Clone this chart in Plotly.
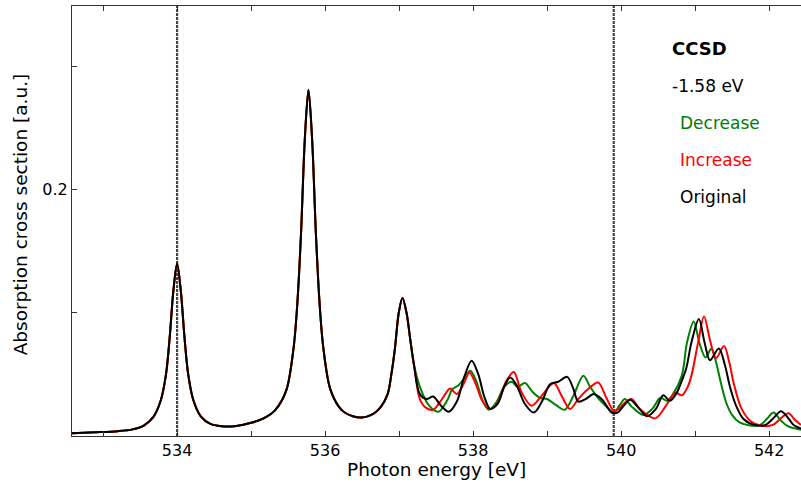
import plotly.graph_objects as go

# shared part of the spectrum (all three curves coincide here)
energy_common = [532.58, 532.9, 533.2, 533.4, 533.55, 533.68, 533.78, 533.85, 533.9, 533.95,
                 534.0, 534.05, 534.1, 534.15, 534.22, 534.32, 534.45, 534.6, 534.8, 535.0,
                 535.175, 535.325, 535.475, 535.575, 535.625, 535.675, 535.725, 535.775,
                 535.825, 535.875, 535.925, 535.975, 536.075, 536.225, 536.375, 536.5,
                 536.645, 536.745, 536.845, 536.895, 536.945, 536.995, 537.045, 537.1,
                 537.15, 537.2]
sigma_common = [0.0023, 0.003, 0.0039, 0.0054, 0.0085, 0.0155, 0.029, 0.05, 0.08, 0.118,
                0.14, 0.118, 0.08, 0.05, 0.029, 0.016, 0.0098, 0.008, 0.0082, 0.0107,
                0.0145, 0.021, 0.037, 0.072, 0.108, 0.165, 0.24, 0.281,
                0.24, 0.165, 0.108, 0.072, 0.037, 0.021, 0.016, 0.015,
                0.0178, 0.023, 0.034, 0.05, 0.072, 0.1, 0.112, 0.1,
                0.0785, 0.058]

# Original
energy_orig = [537.28, 537.37, 537.46, 537.56, 537.67, 537.78, 537.88, 537.98, 538.07, 538.15,
               538.23, 538.33, 538.42, 538.5, 538.58, 538.7, 538.82, 538.93, 539.04, 539.15,
               539.27, 539.35, 539.42, 539.52, 539.63, 539.75, 539.87, 539.95, 540.04, 540.12,
               540.22, 540.35, 540.47, 540.57, 540.66, 540.75, 540.82, 540.88, 540.95, 541.05,
               541.13, 541.2, 541.32, 541.4, 541.47, 541.55, 541.65, 541.8, 541.95, 542.05,
               542.16, 542.25, 542.33, 542.43]
sigma_orig = [0.034, 0.03, 0.032, 0.025, 0.0197, 0.028, 0.048, 0.061, 0.05, 0.032,
              0.022, 0.026, 0.04, 0.0475, 0.042, 0.026, 0.019, 0.028, 0.042, 0.044,
              0.048, 0.039, 0.028, 0.03, 0.034, 0.029, 0.019, 0.019, 0.025, 0.0294,
              0.024, 0.016, 0.022, 0.033, 0.0286, 0.035, 0.045, 0.055, 0.076, 0.095,
              0.075, 0.0615, 0.071, 0.058, 0.04, 0.025, 0.014, 0.009, 0.009, 0.014,
              0.02, 0.015, 0.009, 0.006]

# Decrease
energy_dec = [537.28, 537.4, 537.53, 537.65, 537.72, 537.8, 537.88, 537.96, 538.04, 538.12,
              538.21, 538.32, 538.42, 538.52, 538.6, 538.7, 538.8, 538.9, 539.0, 539.12,
              539.24, 539.35, 539.49, 539.58, 539.7, 539.8, 539.9, 539.98, 540.05, 540.14,
              540.3, 540.42, 540.53, 540.62, 540.7, 540.82, 540.89, 540.98, 541.06, 541.14,
              541.22, 541.29, 541.34, 541.42, 541.5, 541.6, 541.74, 541.88, 541.97, 542.06,
              542.15, 542.25, 542.43]
sigma_dec = [0.04, 0.025, 0.0197, 0.029, 0.038, 0.041, 0.047, 0.053, 0.045, 0.03,
             0.0213, 0.028, 0.04, 0.044, 0.04, 0.043, 0.036, 0.031, 0.03, 0.025,
             0.0213, 0.032, 0.0488, 0.04, 0.03, 0.024, 0.019, 0.025, 0.03, 0.024,
             0.017, 0.022, 0.031, 0.0286, 0.034, 0.049, 0.076, 0.093, 0.075, 0.0637,
             0.071, 0.058, 0.045, 0.027, 0.017, 0.011, 0.0085, 0.009, 0.014, 0.019,
             0.013, 0.008, 0.005]

# Increase
energy_inc = [537.28, 537.36, 537.46, 537.58, 537.69, 537.78, 537.87, 537.95, 538.03, 538.12,
              538.22, 538.33, 538.45, 538.55, 538.65, 538.79, 538.93, 539.09, 539.2, 539.31,
              539.42, 539.55, 539.69, 539.8, 539.9, 539.97, 540.05, 540.14, 540.25, 540.46,
              540.6, 540.73, 540.82, 540.9, 540.95, 541.04, 541.12, 541.2, 541.28, 541.39,
              541.46, 541.52, 541.62, 541.75, 541.9, 542.05, 542.15, 542.26, 542.35, 542.43]
sigma_inc = [0.03, 0.023, 0.0213, 0.03, 0.0386, 0.034, 0.042, 0.0516, 0.043, 0.029,
             0.0219, 0.027, 0.045, 0.052, 0.036, 0.0246, 0.033, 0.043, 0.032, 0.0219,
             0.03, 0.038, 0.0434, 0.031, 0.0205, 0.022, 0.027, 0.03, 0.022, 0.0143,
             0.024, 0.035, 0.033, 0.04, 0.049, 0.076, 0.097, 0.078, 0.063, 0.073,
             0.06, 0.043, 0.023, 0.012, 0.0083, 0.009, 0.014, 0.0184, 0.013, 0.009]

marker_lines = [534.0, 539.9]

series = [
    ("Decrease", energy_dec, sigma_dec, "#008000"),
    ("Increase", energy_inc, sigma_inc, "#ff0000"),
    ("Original", energy_orig, sigma_orig, "#000000"),
]

font = "DejaVu Sans"

fig = go.Figure()

for name, ex, sx, color in series:
    fig.add_trace(go.Scatter(
        x=energy_common + ex,
        y=sigma_common + sx,
        mode="lines",
        name=name,
        line=dict(color=color, width=2, shape="spline", smoothing=0.9),
        showlegend=False
    ))

for xv in marker_lines:
    fig.add_vline(x=xv, line=dict(color="#444444", width=2.2, dash="3px,1px"), layer="below")

labels = [
    ("<b>CCSD</b>", 0.820, 0.902, "black", 18),
    ("-1.58 eV", 0.820, 0.814, "black", 17),
    ("Decrease", 0.831, 0.728, "#008000", 17),
    ("Increase", 0.831, 0.642, "#ff0000", 17),
    ("Original", 0.831, 0.556, "black", 17),
]
for txt, xp, yp, col, sz in labels:
    fig.add_annotation(text=txt, x=xp, y=yp, xref="paper", yref="paper",
                       xanchor="left", yanchor="middle", showarrow=False,
                       font=dict(family=font, size=sz, color=col))

# axis titles placed by hand
fig.add_annotation(text="Photon energy [eV]", x=0.5, y=-0.077, xref="paper", yref="paper",
                   xanchor="center", yanchor="middle", showarrow=False,
                   font=dict(family=font, size=18.5, color="black"))
fig.add_annotation(text="Absorption cross section [a.u.]", x=-0.071, y=0.516,
                   xref="paper", yref="paper", textangle=-90,
                   xanchor="center", yanchor="middle", showarrow=False,
                   font=dict(family=font, size=18.5, color="black"))

xtick_vals = [533, 534, 535, 536, 537, 538, 539, 540, 541, 542]
xtick_text = ["", "534", "", "536", "", "538", "", "540", "", "542"]
ytick_vals = [0.1, 0.2, 0.3]
ytick_text = ["", "0.2", ""]

fig.update_layout(
    width=801, height=485,
    margin=dict(l=72, r=0, t=6, b=49),
    plot_bgcolor="white",
    paper_bgcolor="white",
    font=dict(family=font, size=16, color="black"),
    xaxis=dict(
        range=[532.58, 542.43],
        tickvals=xtick_vals, ticktext=xtick_text,
        ticks="inside", ticklen=5, tickcolor="#333",
        showline=True, linecolor="#333", linewidth=1.2, mirror="allticks",
        showgrid=False, zeroline=False, automargin=False,
        tickfont=dict(size=16),
    ),
    yaxis=dict(
        range=[0, 0.349],
        tickvals=ytick_vals, ticktext=ytick_text,
        ticks="inside", ticklen=5, tickcolor="#333",
        showline=True, linecolor="#333", linewidth=1.2,
        showgrid=False, zeroline=False, automargin=False,
        tickfont=dict(size=16),
    ),
)

# drop the default page margin so the figure sits at the window corner
fig.write_html("out.html", config={"displayModeBar": False},
               post_script="document.body.style.margin='0';")
